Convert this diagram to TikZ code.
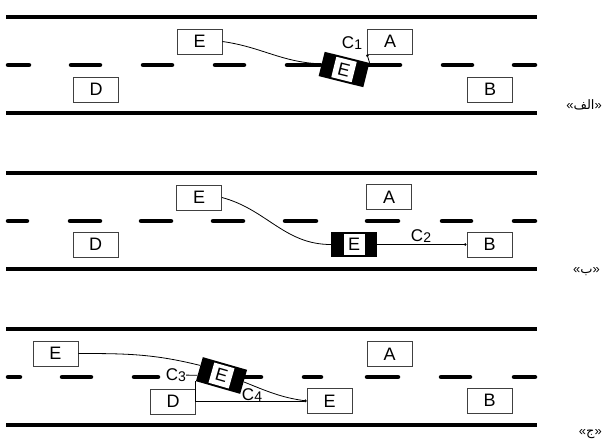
\documentclass[tikz,border=0pt]{standalone}
\usepackage{fontspec}
\setmainfont{Liberation Sans}
\newfontfamily\arabicfont[Script=Arabic]{DejaVu Sans}
\TeXXeTstate=1
\usetikzlibrary{arrows.meta, positioning, calc}

\newcommand{\cidx}[1]{C\raisebox{-1pt}{\fontsize{14}{14}\selectfont #1}}

\begin{document}
\begin{tikzpicture}[x=1pt,y=1pt,>=latex,
    box/.style={draw=black!75, line width=0.9pt, fill=white, minimum width=45pt,
      minimum height=25pt, inner sep=0pt, font=\fontsize{18}{18}\selectfont},
    car/.style={fill=black, minimum width=46pt, minimum height=25pt, inner sep=0pt},
    carin/.style={fill=white, minimum width=21pt, minimum height=21pt, inner sep=0pt,
      font=\fontsize{18}{18}\selectfont},
    road/.style={line width=4.5pt},
    lane/.style={line width=4.5pt, line cap=round},
    link/.style={line width=0.8pt},
    dot/.style={link, -{Circle[length=2.5pt]}},
    tag/.style={font=\fontsize{17}{17}\selectfont, inner sep=0pt},
    panel/.style={font=\fontsize{13}{13}\selectfont, anchor=east, inner sep=0pt}]

  \useasboundingbox (0,0) rectangle (612,-447);

  % draw the road edges
  \foreach \dy in {0,156,312} {
    \draw[road] (6,-17-\dy) -- (537,-17-\dy);
    \draw[road] (6,-113-\dy) -- (537,-113-\dy);
  }

  % draw the lane markings
  \foreach \a/\b in {6/31,69/102,141/174,213/246,285/322,365/402,441/474,512/537}
    \draw[lane] (\a+2,-65) -- (\b-2,-65);
  \foreach \a/\b in {6/29,68/102,139/173,211/245,283/318,365/400,440/473,512/537}
    \draw[lane] (\a+2,-221) -- (\b-2,-221);
  \foreach \a/\b in {6/22,60/93,132/160,228/263,302/323,365/400,439/472,512/537}
    \draw[lane] (\a+2,-377) -- (\b-2,-377);

  % first panel
  \node[box] (e1) at (199.5,-41.5) {E};
  \node[box] (a1) at (390,-41.5) {A};
  \node[box] (d1) at (96,-89.5) {D};
  \node[box] (b1) at (490,-89.5) {B};
  \node[car, rotate=-14] (car1) at (344,-69.5) {};
  \node[carin, rotate=-14] (car1e) at (car1) {E};
  \node[tag] (c1) at (352,-43) {\cidx{1}};
  \node[panel] (p1) at (602,-105) {«{\arabicfont\beginR الف\endR}»};

  \draw[link] (e1.east) to[out=-8,in=178] (car1.west);
  \draw[dot] (car1.north east) -- (a1.south west);

  % second panel
  \node[box] (e2) at (199,-197.5) {E};
  \node[box] (a2) at (389,-197) {A};
  \node[box] (d2) at (95.5,-244.5) {D};
  \node[box] (b2) at (489.5,-244.5) {B};
  \node[car] (car2) at (354,-244.5) {};
  \node[carin] (car2e) at (car2) {E};
  \node[tag] (c2) at (421,-236) {\cidx{2}};
  \node[panel] (p2) at (600,-272) {«{\arabicfont\beginR ب\endR}»};

  \draw[link] (e2.east) to[out=-15,in=180] (car2.west);
  \draw[dot] (car2.east) -- (b2.west);

  % third panel
  \node[box] (e3top) at (55.5,-353.5) {E};
  \node[box] (a3) at (389.5,-354) {A};
  \node[box] (d3) at (173,-401.5) {D};
  \node[box] (e3low) at (329.5,-401) {E};
  \node[box] (b3) at (489.5,-400.5) {B};
  \node[car, rotate=-16] (car3) at (221.5,-375.5) {};
  \node[carin, rotate=-16] (car3e) at (car3) {E};
  \node[tag] (c3) at (176,-375) {\cidx{3}};
  \node[tag] (c4) at (252,-395) {\cidx{4}};
  \node[panel] (p3) at (602,-434) {«{\arabicfont\beginR ج\endR}»};

  \draw[link] (e3top.east) to[out=0,in=166] ($(car3.north west)!0.35!(car3.south west)$);
  \draw[link] (c3) -- (car3);
  \draw[dot] (car3.east) to[out=-22,in=172] (e3low.west);
  \draw[dot] (car3.south west) |- (e3low.west);
\end{tikzpicture}
\end{document}
